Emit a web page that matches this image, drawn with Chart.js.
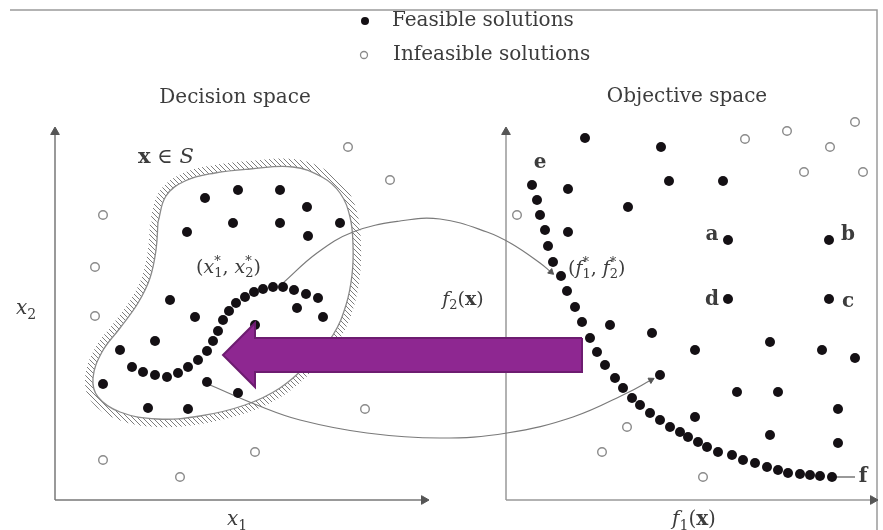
<!DOCTYPE html>
<html>
<head>
  <title>Decision space / Objective space</title>
  <script src="https://cdn.jsdelivr.net/npm/chart.js"></script>
<style>
body {
  margin: 0;
  background: #ffffff;
}
canvas {
  display: block;
}
</style>
</head>
<body>

  <canvas id="spaceChart" width="883" height="530"></canvas>

  <script>
    // coordinates are in picture units: x to the right, y downwards
    const feasibleLeft = [
      [205,198],[238,190],[280,190],[307,207],[187,232],[233,223],[280,223],[308,236],[340,223],
      [170,300],[195,317],[155,341],[120,350],[297,308],[323,317],[255,325],
      [103,384],[207,382],[238,393],[148,408],[188,409]
    ];
    const optimalLeft = [
      [132,367],[143,372],[155,375],[167,377],[178,373],[188,367],[198,360],[207,351],[213,341],
      [218,331],[223,320],[229,311],[236,303],[245,297],[254,292],[263,289],[273,287],[283,287],
      [294,290],[306,294],[318,298]
    ];
    const infeasibleLeft = [
      [103,215],[95,267],[95,316],[348,147],[390,180],[365,409],[103,460],[180,477],[255,452]
    ];
    const feasibleRight = [
      [585,138],[661,147],[669,181],[723,181],[568,189],[628,207],[568,232],
      [728,240],[829,240],[728,299],[829,299],
      [610,325],[652,333],[695,350],[770,342],[822,350],[855,358],
      [660,375],[737,392],[778,392],[838,409],[695,417],[770,435],[838,443]
    ];
    const paretoFront = [
      [532,185],[537,200],[540,215],[545,230],[548,246],[553,262],[561,276],[567,291],[575,307],
      [582,322],[590,338],[597,352],[605,365],[615,378],[623,388],[632,398],[640,405],[650,413],
      [660,420],[670,427],[680,432],[688,437],[698,442],[707,447],[718,452],[732,455],[743,460],
      [755,463],[767,467],[778,470],[788,473],[800,474],[810,475],[820,476],[832,477]
    ];
    const infeasibleRight = [
      [517,215],[745,139],[787,131],[855,122],[830,147],[804,172],[863,172],[627,427],[602,452],[703,477]
    ];
    const feasibleRegion = [
      [158,222],[166,196],[185,181],[215,173],[250,169],[293,167],[322,177],[340,193],[350,217],[353,245],
      [352,275],[346,305],[333,335],[310,362],[280,388],[245,405],[200,416],[157,419],[120,412],
      [98,397],[93,378],[102,352],[120,328],[138,303],[150,278],[156,250],[158,222]
    ];
    const mapUpper = [[283,283],[317,253],[353,232],[400,221],[440,219],[487,232],[512,244],[540,263],[551,272]];
    const mapLower = [[210,385],[257,405],[300,420],[367,433],[440,438],[507,433],[573,417],[627,393],[651,380]];
    const arrowShape = [[582,338],[255,338],[255,323],[223,355],[255,387],[255,372],[582,372],[582,338]];
    const leftAxisY = [[55,500],[55,132]];
    const leftAxisX = [[55,500],[424,500]];
    const rightAxisY = [[506,500],[506,132]];
    const rightAxisX = [[506,500],[873,500]];
    const frame = [[10,10],[877,10],[877,530]];
    const fTick = [[834,477],[855,477]];
    const legendFeasible = [[365,21]];
    const legendInfeasible = [[364,55]];

    // text: [x, y, align, size, segments]  segment = [text, style, shift]
    const annotations = [
      [392, 21, 'left', 20, [['Feasible solutions']]],
      [393, 55, 'left', 20, [['Infeasible solutions']]],
      [235, 98, 'center', 20, [['Decision space']]],
      [687, 97, 'center', 20, [['Objective space']]],
      [138, 158, 'left', 21, [['x', 'b'], [' \u2208 '], ['S', 'i']]],
      [196, 268, 'left', 19, [['('], ['x', 'i'], ['*', '', 'sup0'], ['1', '', 'sub'], [', '], ['x', 'i'], ['*', '', 'sup0'], ['2', '', 'sub'], [')']]],
      [463, 300, 'center', 19, [['f', 'i'], ['2', '', 'sub'], ['('], ['x', 'b'], [')']]],
      [568, 269, 'left', 19, [['('], ['f', 'i'], ['*', '', 'sup0'], ['1', '', 'sub'], [', '], ['f', 'i'], ['*', '', 'sup0'], ['2', '', 'sub'], [')']]],
      [540, 163, 'center', 20, [['e', 'b']]],
      [712, 235, 'center', 20, [['a', 'b']]],
      [848, 235, 'center', 20, [['b', 'b']]],
      [712, 300, 'center', 20, [['d', 'b']]],
      [848, 302, 'center', 20, [['c', 'b']]],
      [863, 477, 'center', 20, [['f', 'b']]],
      [26, 309, 'center', 20, [['x', 'i'], ['2', '', 'sub']]],
      [237, 520, 'center', 20, [['x', 'i'], ['1', '', 'sub']]],
      [694, 520, 'center', 20, [['f', 'i'], ['1', '', 'sub'], ['('], ['x', 'b'], [')']]]
    ];

    const pts = arr => arr.map(p => ({ x: p[0], y: p[1] }));

    function hatch() {
      const c = document.createElement('canvas');
      c.width = 5; c.height = 5;
      const g = c.getContext('2d');
      g.strokeStyle = '#7d7d7d';
      g.lineWidth = 1;
      g.beginPath();
      g.moveTo(0, 0); g.lineTo(5, 5);
      g.moveTo(-1, 4); g.lineTo(1, 6);
      g.moveTo(4, -1); g.lineTo(6, 1);
      g.stroke();
      return g.createPattern(c, 'repeat');
    }

    function lineSet(arr, color, width, order, extra) {
      return Object.assign({
        type: 'line',
        data: pts(arr),
        borderColor: color,
        borderWidth: width,
        pointRadius: 0,
        fill: false,
        tension: 0,
        order: order
      }, extra || {});
    }

    // arrow head on the last point of a line
    function headAt(n, rot, r) {
      return {
        pointStyle: 'triangle',
        pointRadius: c => c.dataIndex === n - 1 ? r : 0,
        rotation: rot,
        pointBackgroundColor: '#555',
        pointBorderColor: '#555',
        pointBorderWidth: 1
      };
    }

    function drawRich(ctx, x, y, segs, size, align) {
      const parts = segs.map(s => {
        const style = s[1] || '';
        const shift = s[2] || '';
        const sz = shift ? Math.round(size * 0.7) : size;
        const font = (style.includes('i') ? 'italic ' : '') + (style.includes('b') ? 'bold ' : '') + sz + 'px "DejaVu Serif", serif';
        ctx.font = font;
        const w = ctx.measureText(s[0]).width;
        let dy = 0;
        if (shift === 'sub') dy = size * 0.3;
        if (shift === 'sup0') dy = -size * 0.35;
        return { t: s[0], font, w, dy, adv: shift === 'sup0' ? 0 : w };
      });
      const total = parts.reduce((a, p) => a + p.adv, 0);
      let cx = align === 'center' ? x - total / 2 : x;
      ctx.textBaseline = 'middle';
      ctx.textAlign = 'left';
      parts.forEach(p => {
        ctx.font = p.font;
        ctx.fillText(p.t, cx, y + p.dy);
        cx += p.adv;
      });
    }

    const textPlugin = {
      id: 'texts',
      afterDatasetsDraw(chart) {
        const { ctx, scales } = chart;
        ctx.save();
        ctx.fillStyle = '#3c3c3c';
        annotations.forEach(a => {
          drawRich(ctx, scales.x.getPixelForValue(a[0]), scales.y.getPixelForValue(a[1]), a[4], a[3], a[2]);
        });
        ctx.restore();
      }
    };

    const ctx = document.getElementById('spaceChart').getContext('2d');
    const spaceChart = new Chart(ctx, {
      type: 'scatter',
      data: {
        datasets: [
          // hatching band round the feasible region S
          lineSet(feasibleRegion, hatch(), 16, 20, { tension: 0.4 }),
          lineSet(feasibleRegion, '#8a8a8a', 1.3, 19, { tension: 0.4, fill: 'shape', backgroundColor: '#ffffff' }),
          lineSet(frame, '#9a9a9a', 1.5, 18),
          lineSet(leftAxisY, '#777', 1.5, 17, headAt(2, 0, 5)),
          lineSet(leftAxisX, '#777', 1.5, 17, headAt(2, 90, 5)),
          lineSet(rightAxisY, '#999', 1.5, 17, headAt(2, 0, 5)),
          lineSet(rightAxisX, '#999', 1.5, 17, headAt(2, 90, 5)),
          lineSet(mapUpper, '#7a7a7a', 1.2, 15, Object.assign({ tension: 0.4 }, headAt(mapUpper.length, 132, 3.5))),
          lineSet(mapLower, '#7a7a7a', 1.2, 15, Object.assign({ tension: 0.4 }, headAt(mapLower.length, 62, 3.5))),
          lineSet(fTick, '#555', 1.2, 15),
          {
            label: 'Infeasible solutions',
            data: pts(infeasibleLeft.concat(infeasibleRight)),
            pointRadius: 4.3,
            pointBorderWidth: 1.4,
            pointBorderColor: '#8a8a8a',
            pointBackgroundColor: '#ffffff',
            order: 5
          },
          {
            label: 'Feasible solutions',
            data: pts(feasibleLeft.concat(optimalLeft, feasibleRight, paretoFront)),
            pointRadius: 5,
            pointBorderWidth: 0,
            pointBackgroundColor: '#141014',
            order: 4
          },
          {
            data: pts(legendFeasible),
            pointRadius: 4,
            pointBorderWidth: 0,
            pointBackgroundColor: '#141014',
            order: 4
          },
          {
            data: pts(legendInfeasible),
            pointRadius: 3.5,
            pointBorderWidth: 1.3,
            pointBorderColor: '#8a8a8a',
            pointBackgroundColor: '#ffffff',
            order: 4
          },
          // big purple arrow from objective space back to decision space
          lineSet(arrowShape, '#6d1c70', 2, 0, { fill: 'shape', backgroundColor: '#8e2791' })
        ]
      },
      options: {
        responsive: false,
        animation: false,
        layout: { padding: 0, autoPadding: false },
        plugins: {
          legend: { display: false },
          tooltip: { enabled: false }
        },
        scales: {
          x: { type: 'linear', min: 0, max: 883, display: false },
          y: { type: 'linear', min: 0, max: 530, reverse: true, display: false }
        }
      },
      plugins: [textPlugin]
    });
  </script>

</body>
</html>
